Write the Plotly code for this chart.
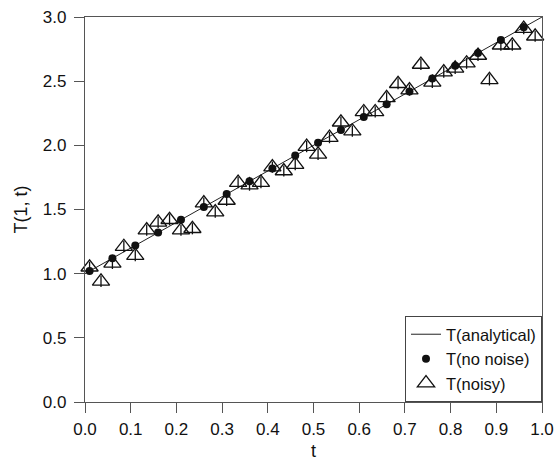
import plotly.graph_objects as go

# Analytical solution (straight line)
t_analytical = [0.0, 1.0]
T_analytical = [1.0, 3.0]

# Solution without noise
t_clean = [0.01, 0.06, 0.11, 0.16, 0.21, 0.26, 0.31, 0.36, 0.41, 0.46,
           0.51, 0.56, 0.61, 0.66, 0.71, 0.76, 0.81, 0.86, 0.91, 0.96]
T_clean = [1.02, 1.12, 1.22, 1.32, 1.42, 1.52, 1.62, 1.72, 1.82, 1.92,
           2.02, 2.12, 2.22, 2.32, 2.42, 2.52, 2.62, 2.72, 2.82, 2.92]

# Noisy data
t_noisy = [0.010, 0.035, 0.060, 0.085, 0.110, 0.135, 0.160, 0.185, 0.210, 0.235,
           0.260, 0.285, 0.310, 0.335, 0.360, 0.385, 0.410, 0.435, 0.460, 0.485,
           0.510, 0.535, 0.560, 0.585, 0.610, 0.635, 0.660, 0.685, 0.710, 0.735,
           0.760, 0.785, 0.810, 0.835, 0.860, 0.885, 0.910, 0.935, 0.960, 0.985]
T_noisy = [1.05, 0.94, 1.08, 1.21, 1.14, 1.34, 1.40, 1.42, 1.34, 1.35,
           1.55, 1.48, 1.57, 1.71, 1.69, 1.71, 1.83, 1.80, 1.85, 1.99,
           1.93, 2.06, 2.18, 2.11, 2.26, 2.26, 2.37, 2.48, 2.43, 2.63,
           2.49, 2.57, 2.60, 2.64, 2.70, 2.51, 2.78, 2.78, 2.91, 2.85]

x_ticks = [0.0, 0.1, 0.2, 0.3, 0.4, 0.5, 0.6, 0.7, 0.8, 0.9, 1.0]
y_ticks = [0.0, 0.5, 1.0, 1.5, 2.0, 2.5, 3.0]

FONT = "Liberation Sans, Arial, sans-serif"
AX = "#555555"

fig = go.Figure()

fig.add_trace(go.Scatter(
    x=t_analytical, y=T_analytical, mode="lines", name="T(analytical)",
    line=dict(color="#222222", width=1), legendrank=1))

fig.add_trace(go.Scatter(
    x=t_noisy, y=T_noisy, mode="markers", name="T(noisy)",
    legendgroup="noisy", legendrank=3, cliponaxis=False,
    marker=dict(symbol="triangle-up-open", size=15, color="#111111",
                line=dict(width=1.3, color="#111111"))))

fig.add_trace(go.Scatter(
    x=t_noisy, y=T_noisy, mode="markers", name="T(noisy)",
    legendgroup="noisy", showlegend=False, cliponaxis=False,
    marker=dict(symbol="line-ns-open", size=8, color="#111111",
                line=dict(width=1.3, color="#111111"))))

fig.add_trace(go.Scatter(
    x=t_clean, y=T_clean, mode="markers", name="T(no noise)",
    legendrank=2, cliponaxis=False,
    marker=dict(symbol="circle", size=8, color="#111111")))

axis_common = dict(
    showgrid=False, zeroline=False, showline=True, linecolor=AX, linewidth=1.3,
    mirror=True, ticks="outside", ticklen=10, tickwidth=1, tickcolor=AX,
    tickfont=dict(family=FONT, size=17, color="#111111"),
    automargin=False,
)

fig.update_layout(
    width=556, height=461,
    margin=dict(l=85, r=14, t=17, b=59),
    paper_bgcolor="white", plot_bgcolor="white",
    font=dict(family=FONT, color="#111111"),
    showlegend=True,
    legend=dict(x=1, y=0, xanchor="right", yanchor="bottom",
                bgcolor="white", bordercolor="#444444", borderwidth=1,
                font=dict(family=FONT, size=16.5, color="#111111"),
                entrywidth=132, entrywidthmode="pixels",
                traceorder="normal"),
    xaxis=dict(range=[0, 1], tickvals=x_ticks, tickformat=".1f",
               ticklabelstandoff=1,
               title=dict(text="t", font=dict(family=FONT, size=18), standoff=8),
               **axis_common),
    yaxis=dict(range=[0, 3], tickvals=y_ticks, tickformat=".1f",
               ticklabelstandoff=4,
               title=dict(text="T(1, t)", font=dict(family=FONT, size=18), standoff=10),
               **axis_common),
)

fig.write_html("out.html")
